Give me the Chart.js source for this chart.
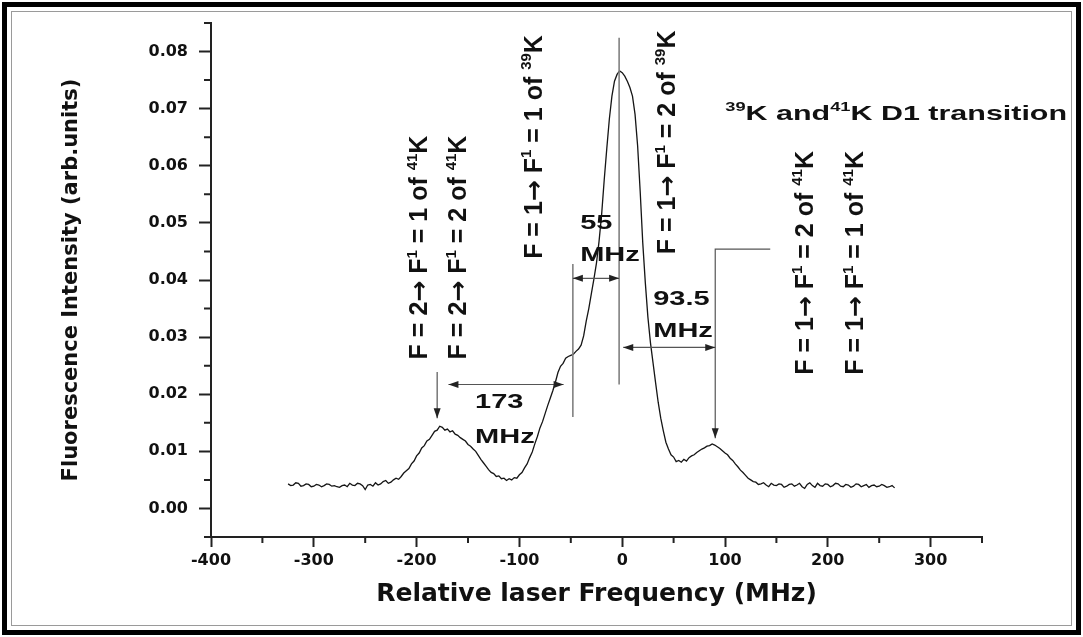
<!DOCTYPE html>
<html>
<head>
<meta charset="utf-8">
<title>39K and 41K D1 transition</title>
<script src="https://cdn.jsdelivr.net/npm/chart.js@4"></script>
<style>
  html, body { margin: 0; padding: 0; background: #fff; }
  #wrap { position: relative; width: 1083px; height: 637px; }
</style>
</head>
<body>
<div id="wrap"><canvas id="spectrum" width="1083" height="637"></canvas></div>
<script>
"use strict";

// Relative laser frequency (MHz), every 2.5 MHz
const freq = [
  -325, -322.5, -320, -317.5, -315, -312.5, -310, -307.5, -305, -302.5,
  -300, -297.5, -295, -292.5, -290, -287.5, -285, -282.5, -280, -277.5,
  -275, -272.5, -270, -267.5, -265, -262.5, -260, -257.5, -255, -252.5,
  -250, -247.5, -245, -242.5, -240, -237.5, -235, -232.5, -230, -227.5,
  -225, -222.5, -220, -217.5, -215, -212.5, -210, -207.5, -205, -202.5,
  -200, -197.5, -195, -192.5, -190, -187.5, -185, -182.5, -180, -177.5,
  -175, -172.5, -170, -167.5, -165, -162.5, -160, -157.5, -155, -152.5,
  -150, -147.5, -145, -142.5, -140, -137.5, -135, -132.5, -130, -127.5,
  -125, -122.5, -120, -117.5, -115, -112.5, -110, -107.5, -105, -102.5,
  -100, -97.5, -95, -92.5, -90, -87.5, -85, -82.5, -80, -77.5,
  -75, -72.5, -70, -67.5, -65, -62.5, -60, -57.5, -55, -52.5,
  -50, -47.5, -45, -42.5, -40, -37.5, -35, -32.5, -30, -27.5,
  -25, -22.5, -20, -17.5, -15, -12.5, -10, -7.5, -5, -2.5,
  0, 2.5, 5, 7.5, 10, 12.5, 15, 17.5, 20, 22.5,
  25, 27.5, 30, 32.5, 35, 37.5, 40, 42.5, 45, 47.5,
  50, 52.5, 55, 57.5, 60, 62.5, 65, 67.5, 70, 72.5,
  75, 77.5, 80, 82.5, 85, 87.5, 90, 92.5, 95, 97.5,
  100, 102.5, 105, 107.5, 110, 112.5, 115, 117.5, 120, 122.5,
  125, 127.5, 130, 132.5, 135, 137.5, 140, 142.5, 145, 147.5,
  150, 152.5, 155, 157.5, 160, 162.5, 165, 167.5, 170, 172.5,
  175, 177.5, 180, 182.5, 185, 187.5, 190, 192.5, 195, 197.5,
  200, 202.5, 205, 207.5, 210, 212.5, 215, 217.5, 220, 222.5,
  225, 227.5, 230, 232.5, 235, 237.5, 240, 242.5, 245, 247.5,
  250, 252.5, 255, 257.5, 260, 262.5, 265
];

// Fluorescence intensity (arb. units)
const intensity = [
  0.0043, 0.0040, 0.0041, 0.0045, 0.0044, 0.0039, 0.0040, 0.0043, 0.0042, 0.0038,
  0.0039, 0.0042, 0.0041, 0.0038, 0.0040, 0.0043, 0.0042, 0.0039, 0.0040, 0.0038,
  0.0037, 0.0040, 0.0041, 0.0038, 0.0044, 0.0041, 0.0040, 0.0044, 0.0043, 0.0040,
  0.0033, 0.0041, 0.0042, 0.0039, 0.0045, 0.0041, 0.0043, 0.0047, 0.0049, 0.0044,
  0.0046, 0.0050, 0.0053, 0.0051, 0.0056, 0.0062, 0.0066, 0.0070, 0.0078, 0.0083,
  0.0092, 0.0097, 0.0106, 0.0110, 0.0118, 0.0121, 0.0128, 0.0135, 0.0137, 0.0144,
  0.0142, 0.0137, 0.0139, 0.0134, 0.0136, 0.0130, 0.0128, 0.0124, 0.0121, 0.0118,
  0.0112, 0.0109, 0.0104, 0.0100, 0.0093, 0.0086, 0.0080, 0.0074, 0.0068, 0.0063,
  0.0061, 0.0056, 0.0057, 0.0052, 0.0053, 0.0049, 0.0052, 0.0050, 0.0054, 0.0053,
  0.0059, 0.0063, 0.0071, 0.0078, 0.0089, 0.0099, 0.0113, 0.0126, 0.0141, 0.0152,
  0.0166, 0.0180, 0.0193, 0.0206, 0.0221, 0.0238, 0.0249, 0.0254, 0.0263, 0.0266,
  0.0268, 0.0270, 0.0275, 0.0279, 0.0286, 0.0302, 0.0328, 0.0350, 0.0376, 0.0402,
  0.0430, 0.0468, 0.0515, 0.0575, 0.0630, 0.0682, 0.0722, 0.0748, 0.0760, 0.0766,
  0.0763, 0.0757, 0.0748, 0.0737, 0.0722, 0.0690, 0.0635, 0.0555, 0.0465, 0.0395,
  0.0335, 0.0290, 0.0255, 0.0220, 0.0186, 0.0158, 0.0136, 0.0116, 0.0104, 0.0094,
  0.0090, 0.0082, 0.0084, 0.0081, 0.0086, 0.0083, 0.0089, 0.0092, 0.0094, 0.0098,
  0.0101, 0.0104, 0.0106, 0.0109, 0.0110, 0.0113, 0.0111, 0.0108, 0.0105, 0.0101,
  0.0097, 0.0094, 0.0088, 0.0084, 0.0078, 0.0073, 0.0067, 0.0063, 0.0058, 0.0053,
  0.0050, 0.0047, 0.0046, 0.0042, 0.0043, 0.0045, 0.0041, 0.0038, 0.0044, 0.0041,
  0.0040, 0.0043, 0.0042, 0.0037, 0.0039, 0.0042, 0.0043, 0.0039, 0.0041, 0.0044,
  0.0038, 0.0035, 0.0042, 0.0045, 0.0040, 0.0037, 0.0044, 0.0040, 0.0039, 0.0043,
  0.0042, 0.0038, 0.0040, 0.0044, 0.0043, 0.0039, 0.0038, 0.0042, 0.0041, 0.0037,
  0.0039, 0.0043, 0.0042, 0.0038, 0.0040, 0.0042, 0.0037, 0.0040, 0.0041, 0.0038,
  0.0039, 0.0042, 0.0040, 0.0037, 0.0038, 0.0040, 0.0036
];

// Axis ticks
const xTicks = [-400, -300, -200, -100, 0, 100, 200, 300];
const xMinor = [-350, -250, -150, -50, 50, 150, 250, 350];
const yTicks = [0, 0.01, 0.02, 0.03, 0.04, 0.05, 0.06, 0.07, 0.08];
const yMinor = [-0.005, 0.005, 0.015, 0.025, 0.035, 0.045, 0.055, 0.065, 0.075, 0.085];

// Transition labels (text parts: [text, superscript?, font]), placed in data units
const sup = (f1, iso, ff) => [['F = ' + f1, false], ['\u2192', false, 'DejaVu Sans'], [' F', false], ['1', true],
  [' = ' + ff + ' of ', false], [iso, true], ['K', false]];
const vLabels = [
  {x: -198.6, y: 0.0261, parts: sup(2, '41', 1)},
  {x: -160.7, y: 0.0261, parts: sup(2, '41', 2)},
  {x: -87.1, y: 0.0437, parts: sup(1, '39', 1)},
  {x: 42.8, y: 0.0445, parts: sup(1, '39', 2)},
  {x: 176.7, y: 0.0234, parts: sup(1, '41', 2)},
  {x: 225.9, y: 0.0234, parts: sup(1, '41', 1)}
];
const splitLabels = [
  {x: -143.1, y: 0.0176, text: '173'}, {x: -143.1, y: 0.0114, text: 'MHz'},
  {x: -40.9, y: 0.0489, text: '55'}, {x: -40.9, y: 0.0433, text: 'MHz'},
  {x: 30.2, y: 0.0357, text: '93.5'}, {x: 30.2, y: 0.0301, text: 'MHz'}
];
const spans = [
  {y: 0.0217, from: -169, to: -57},
  {y: 0.0403, from: -48, to: -3},
  {y: 0.0282, from: 1, to: 90.5}
];
const guides = [
  [[-3, 0.0217], [-3, 0.0824]],
  [[-48, 0.016], [-48, 0.0428]]
];
const pointers = [
  [[-180, 0.0239], [-180, 0.0158]],
  [[144, 0.0454], [90.5, 0.0454], [90.5, 0.0123]]
];

const FAMILY = "'Liberation Sans', Arial, sans-serif";

function drawRich(ctx, parts, x, y, size, rotate, stretch) {
  ctx.save();
  ctx.translate(x, y);
  if (rotate) ctx.rotate(rotate);
  if (stretch) ctx.scale(stretch, 1);
  ctx.fillStyle = '#111';
  ctx.textAlign = 'left';
  ctx.textBaseline = 'alphabetic';
  let cx = 0;
  parts.forEach(([t, isSup, fam]) => {
    ctx.font = 'bold ' + (isSup ? size * 0.6 : size) + 'px ' + (fam || FAMILY);
    ctx.fillText(t, cx, isSup ? -size * 0.42 : 0);
    cx += ctx.measureText(t).width;
  });
  ctx.restore();
}

function head(ctx, x, y, dx, dy) {
  const len = 10, half = 3.5;
  ctx.beginPath();
  ctx.moveTo(x, y);
  ctx.lineTo(x - dx * len - dy * half, y - dy * len + dx * half);
  ctx.lineTo(x - dx * len + dy * half, y - dy * len - dx * half);
  ctx.closePath();
  ctx.fill();
}

const decor = {
  id: 'decor',
  afterDraw(chart) {
    const ctx = chart.ctx;
    const xs = chart.scales.x, ys = chart.scales.y;
    const px = v => xs.getPixelForValue(v);
    const py = v => ys.getPixelForValue(v);
    const area = chart.chartArea;

    ctx.save();
    // minor ticks
    ctx.strokeStyle = '#222';
    ctx.lineWidth = 2;
    ctx.beginPath();
    xMinor.forEach(v => { ctx.moveTo(px(v), area.bottom); ctx.lineTo(px(v), area.bottom + 6); });
    yMinor.forEach(v => { ctx.moveTo(area.left, py(v)); ctx.lineTo(area.left - 7, py(v)); });
    ctx.stroke();

    // guide lines
    ctx.strokeStyle = '#808080';
    ctx.lineWidth = 1.6;
    guides.forEach(g => {
      ctx.beginPath();
      ctx.moveTo(px(g[0][0]), py(g[0][1]));
      ctx.lineTo(px(g[1][0]), py(g[1][1]));
      ctx.stroke();
    });

    // pointer arrows
    ctx.fillStyle = '#222';
    ctx.lineWidth = 1.2;
    ctx.strokeStyle = '#555';
    pointers.forEach(p => {
      ctx.beginPath();
      p.forEach((q, i) => (i ? ctx.lineTo(px(q[0]), py(q[1])) : ctx.moveTo(px(q[0]), py(q[1]))));
      ctx.stroke();
      const end = p[p.length - 1];
      head(ctx, px(end[0]), py(end[1]), 0, 1);
    });

    // spacing arrows
    spans.forEach(s => {
      const y = py(s.y), a = px(s.from), b = px(s.to);
      ctx.beginPath();
      ctx.moveTo(a, y);
      ctx.lineTo(b, y);
      ctx.stroke();
      head(ctx, a, y, -1, 0);
      head(ctx, b, y, 1, 0);
    });

    // texts
    splitLabels.forEach(l => drawRich(ctx, [[l.text, false]], px(l.x), py(l.y), 20, 0, 1.45));
    vLabels.forEach(l => drawRich(ctx, l.parts, px(l.x) + 9, py(l.y), 25, -Math.PI / 2));
    drawRich(ctx, [['39', true], ['K and', false], ['41', true], ['K D1 transition', false]],
      px(100.3), py(0.068), 21, 0, 1.45);

    // frame
    ctx.strokeStyle = '#000';
    ctx.lineWidth = 5;
    ctx.strokeRect(4.5, 4.5, 1074, 628);
    ctx.strokeStyle = '#9a9a9a';
    ctx.lineWidth = 1;
    ctx.strokeRect(11.5, 11.5, 1060, 614);
    ctx.restore();
  }
};

new Chart(document.getElementById('spectrum'), {
  type: 'line',
  data: {
    datasets: [{
      data: freq.map((f, i) => ({x: f, y: intensity[i]})),
      borderColor: '#151515',
      borderWidth: 1.3,
      pointRadius: 0,
      tension: 0,
      fill: false
    }]
  },
  options: {
    responsive: false,
    animation: false,
    events: [],
    layout: {padding: {top: 23, right: 101, bottom: 0, left: 0}},
    plugins: {legend: {display: false}, tooltip: {enabled: false}},
    scales: {
      x: {
        type: 'linear',
        min: -400,
        max: 350,
        afterFit: s => { s.height = 100; },
        afterBuildTicks: s => { s.ticks = xTicks.map(v => ({value: v})); },
        grid: {drawOnChartArea: false, drawTicks: true, tickLength: 10, tickWidth: 2, tickColor: '#222'},
        border: {display: true, color: '#222', width: 2},
        ticks: {
          autoSkip: false,
          maxRotation: 0,
          padding: 4,
          color: '#111',
          font: {family: 'DejaVu Sans', weight: 'bold', size: 16},
          callback: v => String(v)
        },
        title: {
          display: true,
          text: 'Relative laser Frequency (MHz)',
          color: '#111',
          font: {family: 'DejaVu Sans', weight: 'bold', size: 25},
          padding: {top: 0, bottom: 28}
        }
      },
      y: {
        type: 'linear',
        min: -0.005,
        max: 0.085,
        afterFit: s => { s.width = 211; },
        afterBuildTicks: s => { s.ticks = yTicks.map(v => ({value: v})); },
        grid: {drawOnChartArea: false, drawTicks: true, tickLength: 12, tickWidth: 2, tickColor: '#222'},
        border: {display: true, color: '#222', width: 2},
        ticks: {
          padding: 11,
          color: '#111',
          font: {family: 'DejaVu Sans', weight: 'bold', size: 16},
          callback: v => v.toFixed(2)
        },
        title: {
          display: true,
          text: 'Fluorescence Intensity (arb.units)',
          color: '#111',
          font: {family: 'DejaVu Sans', weight: 'bold', size: 21},
          padding: {top: 59, bottom: 0}
        }
      }
    }
  },
  plugins: [decor]
});
</script>
</body>
</html>
